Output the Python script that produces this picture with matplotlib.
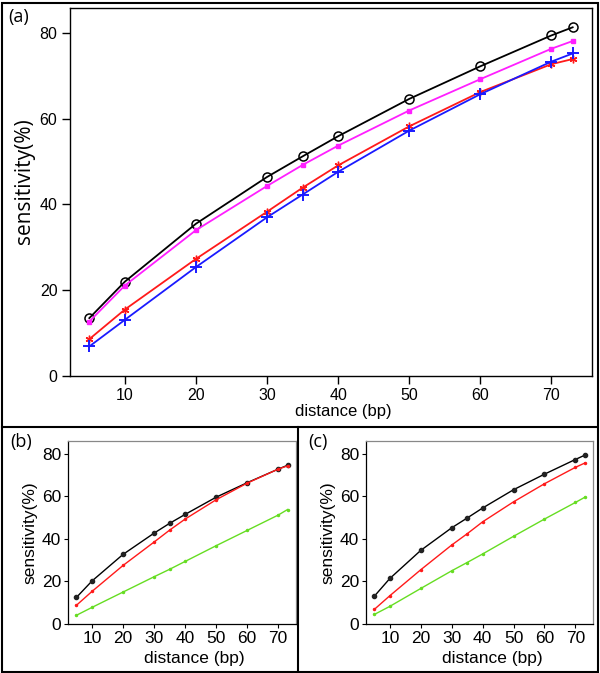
import matplotlib
matplotlib.use("Agg")
import matplotlib.pyplot as plt
from matplotlib.lines import Line2D
from matplotlib.patches import Rectangle

distance = [5, 10, 20, 30, 35, 40, 50, 60, 70, 73]

# panel (a)
a_black = [13.5, 22.0, 35.5, 46.4, 51.2, 55.9, 64.6, 72.2, 79.4, 81.3]
a_magenta = [12.7, 21.1, 34.0, 44.3, 49.2, 53.7, 61.9, 69.2, 76.3, 78.1]
a_red = [8.6, 15.5, 27.3, 38.3, 43.9, 49.1, 58.2, 66.2, 72.7, 73.9]
a_blue = [6.9, 13.1, 25.4, 37.0, 42.3, 47.6, 57.2, 65.7, 73.3, 75.2]

# panel (b)
b_black = [12.5, 20.2, 32.7, 42.7, 47.3, 51.5, 59.6, 66.4, 72.8, 74.6]
b_red = [8.8, 15.3, 27.5, 38.5, 44.1, 49.3, 58.4, 66.2, 72.8, 74.3]
b_green = [4.1, 7.8, 15.0, 22.2, 25.7, 29.4, 36.8, 44.0, 51.2, 53.8]

# panel (c)
c_black = [13.1, 21.4, 34.6, 45.2, 49.8, 54.5, 63.1, 70.4, 77.3, 79.3]
c_red = [6.9, 13.3, 25.5, 37.1, 42.4, 48.0, 57.4, 65.9, 73.6, 75.6]
c_green = [4.5, 8.3, 16.7, 25.0, 28.9, 32.9, 41.2, 49.3, 57.1, 59.5]

xticks = [10, 20, 30, 40, 50, 60, 70]
yticks = [0, 20, 40, 60, 80]

W, H = 600, 673
fig = plt.figure(figsize=(W / 100, H / 100), dpi=100)
FONT = "Liberation Sans"


def ax_px(left, top, right, bottom):
    return fig.add_axes([left / W, 1 - bottom / H, (right - left) / W, (bottom - top) / H])


# Outer border and separators
fig.add_artist(Rectangle((1.5 / W, 1.5 / H), (W - 4) / W, (H - 4) / H,
                         transform=fig.transFigure, fill=False, lw=1.5, ec="black"))
fig.add_artist(Line2D([1.5 / W, 597 / W], [1 - 427 / H, 1 - 427 / H],
                      transform=fig.transFigure, color="black", lw=1.5))
fig.add_artist(Line2D([298 / W, 298 / W], [1 - 427 / H, 1.5 / H],
                      transform=fig.transFigure, color="black", lw=1.5))

# ---------- panel (a)
ax = ax_px(70, 8, 592, 376)
ax.plot(distance, a_black, color="black", lw=1.3, marker="o", ms=6.5,
        mfc="none", mec="black", mew=1.1)
ax.plot(distance, a_magenta, color="#ff1fff", lw=1.3, marker="s", ms=3.2,
        mfc="#ff1fff", mec="#ff1fff")
ax.plot(distance, a_red, color="#ff1a1a", lw=1.3, marker=(6, 2, 0), ms=5.5,
        mec="#ff1a1a", mew=1.0)
ax.plot(distance, a_blue, color="#1a1aff", lw=1.3, marker="+", ms=9,
        mec="#1a1aff", mew=1.4)
ax.set_xlim(2.28, 75.72)
ax.set_ylim(0, 85.8)
ax.set_xticks(xticks)
ax.set_yticks(yticks)
ax.tick_params(direction="out", length=6, width=1.0, labelsize=11.5, pad=3)
for lab in ax.get_xticklabels() + ax.get_yticklabels():
    lab.set_family(FONT)
for s in ax.spines.values():
    s.set_linewidth(1.0)
ax.set_xlabel("distance (bp)", fontsize=12, family=FONT, labelpad=0)
ax.xaxis.set_label_coords((343 - 70) / 522, -0.075)
fig.text(24 / W, 1 - 181 / H, "sensitivity(%)", rotation=90, ha="center",
         va="center", fontsize=15, family="Open Sans")
fig.text(8 / W, 1 - 17 / H, "(a)", ha="left", va="center", fontsize=13,
         family="Open Sans")


def small_panel(left, right, black, red, green, label):
    ax = ax_px(left, 441, right, 624)
    ax.plot(distance, black, color="black", lw=1.0, marker="o", ms=3,
            mfc="#222222", mec="#222222")
    ax.plot(distance, red, color="#ff1a1a", lw=1.0, marker="o", ms=1.5,
            mfc="#ff1a1a", mec="#ff1a1a")
    ax.plot(distance, green, color="#66dd22", lw=1.0, marker="o", ms=1.5,
            mfc="#66dd22", mec="#66dd22")
    ax.set_xlim(2.28, 75.72)
    ax.set_ylim(0, 86)
    ax.set_xticks(xticks)
    ax.set_yticks(yticks)
    ax.tick_params(direction="out", length=3, width=0.8, labelsize=12.5, pad=2)
    for lab in ax.get_xticklabels() + ax.get_yticklabels():
        lab.set_family(FONT)
    ax.spines["top"].set_color("#888888")
    ax.spines["right"].set_color("#888888")
    for s in ax.spines.values():
        s.set_linewidth(0.9)
    ax.set_xlabel("distance (bp)", fontsize=12.5, family=FONT, labelpad=0)
    ax.xaxis.set_label_coords(0.555, -0.15)
    ax.set_ylabel("sensitivity(%)", fontsize=12.5, family=FONT, labelpad=3)
    fig.text((left - 58) / W, 1 - 442 / H, label, ha="left", va="center",
             fontsize=13, family="Open Sans")
    return ax


small_panel(68, 296, b_black, b_red, b_green, "(b)")
small_panel(366, 593, c_black, c_red, c_green, "(c)")

fig.savefig("out.png", dpi=100)
